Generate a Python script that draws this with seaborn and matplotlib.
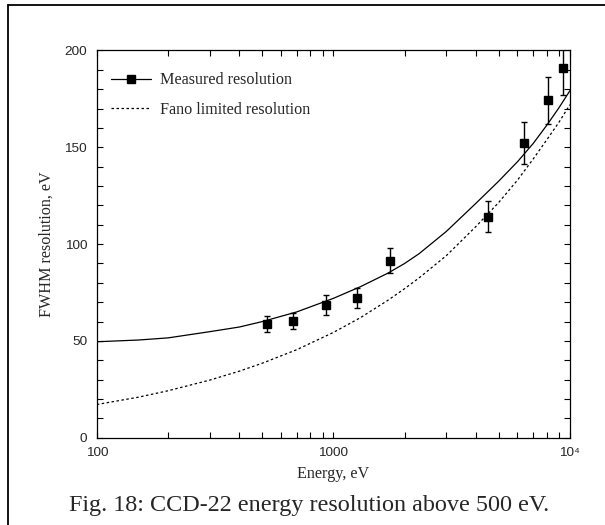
import numpy as np
import pandas as pd
import matplotlib
matplotlib.use('Agg')
import matplotlib.pyplot as plt
import matplotlib.ticker as mticker
from matplotlib.lines import Line2D
import seaborn as sns

# measured points
energy = [522, 674, 927, 1262, 1738, 4508, 6397, 8074, 9354]
fwhm = [58.8, 60.5, 68.6, 72.2, 91.4, 114.2, 152.0, 174.2, 190.7]
fwhm_err = [4.0, 4.2, 5.0, 5.2, 6.4, 8.0, 10.8, 12.0, 13.5]

# fitted curve and Fano limit, read at these energies
curve_e = [100, 150, 200, 300, 400, 500, 700, 1000, 1300, 1700, 2000,
           2300, 3000, 4000, 5000, 6000, 7000, 8000, 9000, 10000]
fit_fwhm = [49.6, 50.5, 51.6, 54.8, 57.2, 60.0, 65.0, 72.0, 78.0, 85.0, 90.0,
            95.0, 106.5, 121.0, 132.5, 142.5, 152.0, 161.5, 170.5, 179.2]
fano_fwhm = [17.2, 21.0, 24.3, 29.8, 34.4, 38.5, 45.5, 54.4, 62.0, 71.0, 77.0,
             82.5, 94.0, 109.0, 121.5, 133.0, 144.0, 154.0, 163.0, 172.0]

xtick_vals = [100, 1000, 10000]
xtick_labels = ['100', '1000', '10\u2074']

df = pd.DataFrame({'E': curve_e, 'fit': fit_fwhm, 'fano': fano_fwhm})

sns.set_style('ticks')
plt.rcParams['font.family'] = ['Liberation Serif', 'DejaVu Serif']

fig = plt.figure(figsize=(6.05, 5.25), dpi=100)
ax = fig.add_axes([0.160, 0.166, 0.782, 0.738])

sns.lineplot(x='E', y='fit', data=df, ax=ax, color='black', linewidth=0.9)
sns.lineplot(x='E', y='fano', data=df, ax=ax, color='black', linewidth=0.9,
             linestyle=(0, (2, 2)))
ax.errorbar(energy, fwhm, yerr=fwhm_err, fmt='s', color='black',
            markersize=5.5, capsize=2, elinewidth=1, capthick=1)

ax.set_xscale('log')
ax.set_xlim(100, 10000)
ax.set_ylim(0, 200)
ax.set_xticks(xtick_vals)
ax.set_xticklabels(xtick_labels)
ax.xaxis.set_minor_locator(mticker.LogLocator(base=10, subs=np.arange(2, 10)))
ax.xaxis.set_minor_formatter(mticker.NullFormatter())
ax.set_yticks([0, 50, 100, 150, 200])
ax.yaxis.set_minor_locator(mticker.MultipleLocator(10))

for lab in ax.get_xticklabels() + ax.get_yticklabels():
    lab.set_family(['Liberation Sans', 'DejaVu Sans'])
    lab.set_fontsize(9.7)
ax.tick_params(which='both', direction='in', top=True, right=True,
               color='black', width=0.8)
ax.tick_params(which='major', length=4.5)
ax.tick_params(which='minor', length=4)
ax.tick_params(axis='x', which='major', pad=6.5)
ax.tick_params(axis='y', which='major', pad=7)
for sp in ax.spines.values():
    sp.set_color('black')
    sp.set_linewidth(0.9)

ax.set_xlabel('Energy, eV', fontsize=11.6, labelpad=5)
ax.set_ylabel('FWHM resolution, eV', fontsize=11.6, labelpad=7)

handles = [Line2D([], [], color='black', linewidth=0.9, marker='s', markersize=5.5),
           Line2D([], [], color='black', linewidth=0.9, linestyle=(0, (2, 2)))]
ax.legend(handles, ['Measured resolution', 'Fano limited resolution'],
          loc='upper left', bbox_to_anchor=(0.03, 0.943), frameon=False,
          fontsize=11.6, handlelength=2.5, handletextpad=0.55, labelspacing=0.84,
          borderpad=0, borderaxespad=0)

fig.text(69 / 605, 0.027, 'Fig. 18: CCD-22 energy resolution above 500 eV.',
         ha='left', va='baseline', fontsize=17.4)

# partial frame around the figure: top and left edges
fig.add_artist(Line2D([8 / 605, 1.0], [1 - 5 / 525, 1 - 5 / 525],
                      color='black', linewidth=1.3, transform=fig.transFigure))
fig.add_artist(Line2D([8 / 605, 8 / 605], [0.0, 1 - 5 / 525],
                      color='black', linewidth=1.3, transform=fig.transFigure))

fig.savefig('out.png', dpi=100)
